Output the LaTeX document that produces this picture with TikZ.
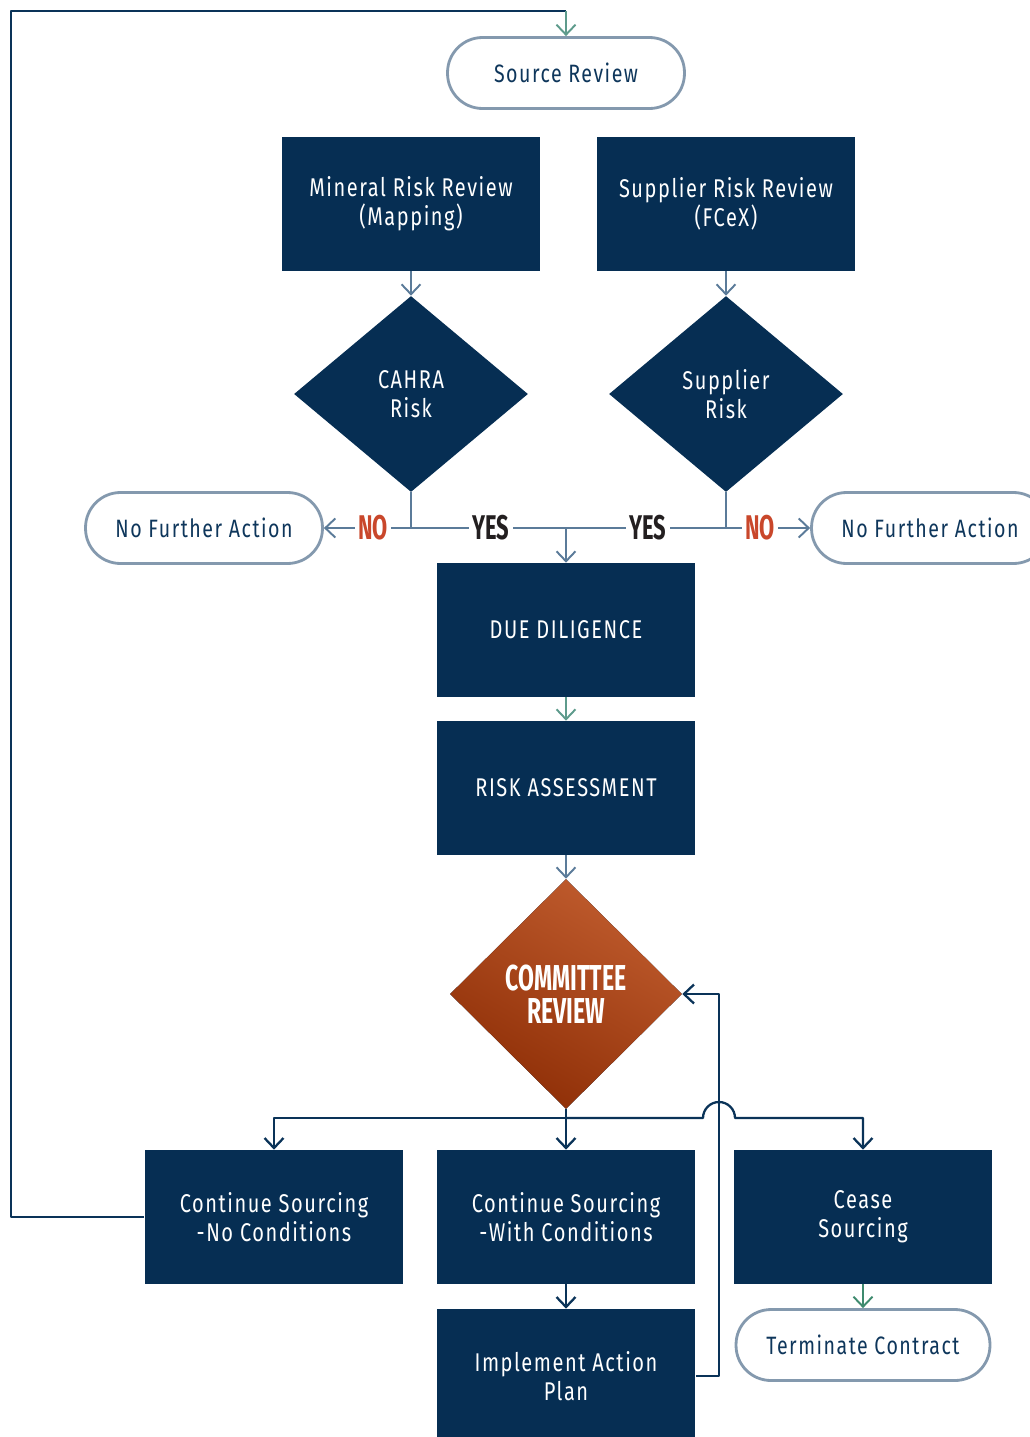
\documentclass[tikz,border=0pt]{standalone}
\usepackage{fontspec}
\setmainfont[FakeStretch=0.78,LetterSpace=6]{Fira Sans}
\newfontfamily\headfont[FakeStretch=0.64]{Fira Sans}
\usetikzlibrary{shapes.geometric,arrows.meta}
\definecolor{boxnavy}{HTML}{062E53}
\definecolor{pillgray}{HTML}{8499AE}
\definecolor{pilltext}{HTML}{0E365B}
\definecolor{flowgray}{HTML}{5B7B99}
\definecolor{flowteal}{HTML}{5E9B8C}
\definecolor{flowgreen}{HTML}{3E8A6E}
\definecolor{loopnavy}{HTML}{0A3358}
\definecolor{nored}{HTML}{C9472B}
\definecolor{yesblack}{HTML}{231F20}
\definecolor{copperlight}{HTML}{C05C2E}
\definecolor{copperdark}{HTML}{8E2E06}
\begin{document}
\begin{tikzpicture}[x=0.02cm,y=-0.02cm,>={Straight Barb[length=2mm,width=3.8mm]},line join=round,
	box/.style={fill=boxnavy,text=white,minimum width=5.18cm,minimum height=2.68cm,inner sep=0pt,align=center,font=\fontsize{14.6}{16.5}\selectfont},
	pill/.style={draw=pillgray,line width=1.6pt,rounded corners=0.7cm,fill=white,text=pilltext,minimum width=4.74cm,minimum height=1.42cm,inner sep=0pt,font=\fontsize{14.3}{16.5}\selectfont},
	decision/.style={diamond,fill=boxnavy,text=white,inner sep=0pt,minimum width=4.68cm,minimum height=3.92cm,align=center,font=\fontsize{14.6}{16.5}\selectfont},
	answer/.style={fill=white,inner sep=2pt,font=\headfont\bfseries\fontsize{19.5}{20}\selectfont},
	flow/.style={draw=flowgray,line width=1.1pt,->},
	flowdark/.style={draw=loopnavy,line width=1.3pt,->},
	loopline/.style={draw=loopnavy,line width=1.6pt}]
	\useasboundingbox (0,0) rectangle (1030,1437);
	\node[pill] (source) at (566,73) {Source Review};
	\node[box] (mineral) at (411,204) {Mineral Risk Review\\(Mapping)};
	\node[box] (supplier) at (726,204) {Supplier Risk Review\\(FCeX)};
	\node[decision] (cahra) at (411,394) {CAHRA\\Risk};
	\node[decision] (srisk) at (726,394) {Supplier\\Risk};
	\node[pill] (nfaleft) at (204,528) {No Further Action};
	\node[pill] (nfaright) at (930,528) {No Further Action};
	\node[box] (due) at (566,630) {DUE DILIGENCE};
	\node[box] (risk) at (566,788) {RISK ASSESSMENT};
	\node[decision,minimum width=4.64cm,minimum height=4.6cm,top color=copperlight,bottom color=copperdark,shading angle=-30,font=\headfont\bfseries\fontsize{20.5}{19}\selectfont] (committee) at (566,994) {COMMITTEE\\REVIEW};
	\node[box] (csno) at (274,1217) {Continue Sourcing\\-No Conditions};
	\node[box] (cswith) at (566,1217) {Continue Sourcing\\-With Conditions};
	\node[box] (cease) at (863,1217) {Cease\\Sourcing};
	\node[box] (plan) at (566,1376) {Implement Action\\Plan};
	\node[pill,minimum width=5.08cm] (terminate) at (863,1345) {Terminate Contract};
	\coordinate (corner) at (11,11);
	\coordinate (top) at (566,11);
	\coordinate (split) at (566,528);
	\coordinate (hub) at (566,1118);
	\coordinate (bridge) at (719,1118);
	\draw[loopline] (csno.west) -| (corner) -- (top);
	\draw[flow,draw=flowteal] (top) -- (source.north);
	\foreach \a/\b in {mineral/cahra,supplier/srisk}{
		\draw[flow] (\a.south) -- (\b.north);
	}
	\draw[flow,-] (cahra.south) |- (split) -| (srisk.south);
	\draw[flow] (split) -- (due.north);
	\draw[flow] (cahra.south |- split) -- (nfaleft.east);
	\draw[flow] (srisk.south |- split) -- (nfaright.west);
	\node[answer,text=nored] (noleft) at (373,528) {NO};
	\node[answer,text=yesblack] (yesleft) at (491,528) {YES};
	\node[answer,text=yesblack] (yesright) at (648,528) {YES};
	\node[answer,text=nored] (noright) at (760,528) {NO};
	\draw[flow,draw=flowteal] (due.south) -- (risk.north);
	\draw[flow] (risk.south) -- (committee.north);
	\draw[flowdark] (committee.south) -- (cswith.north);
	\draw[flowdark] (hub) -| (csno.north);
	\draw[flowdark] (hub) -- ([xshift=-0.32cm]bridge) arc[start angle=180,end angle=0,radius=0.32cm] -| (cease.north);
	\draw[flowdark] (plan.east) -| (bridge) |- (committee.east);
	\draw[flowdark] (cswith.south) -- (plan.north);
	\draw[flow,draw=flowgreen] (cease.south) -- (terminate.north);
\end{tikzpicture}
\end{document}
